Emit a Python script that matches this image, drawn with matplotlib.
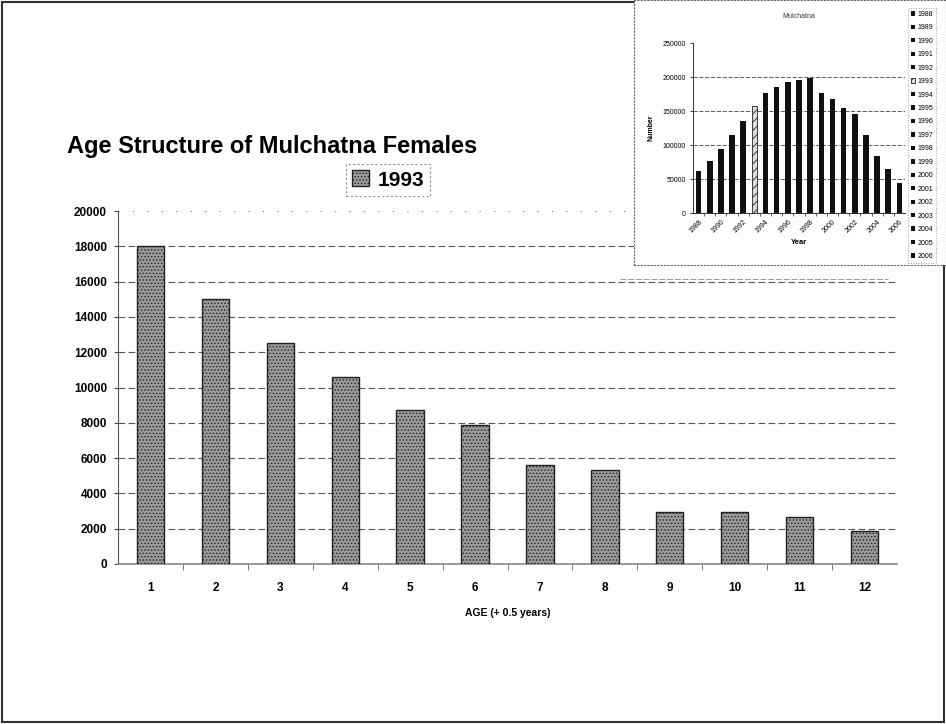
import matplotlib
matplotlib.use("Agg")
import matplotlib.pyplot as plt
from matplotlib.patches import Rectangle, Patch
from matplotlib.lines import Line2D

plt.rcParams['font.family'] = ['Liberation Sans', 'DejaVu Sans']
plt.rcParams['hatch.linewidth'] = 0.6

# main chart: age structure of females, 1993
ages = list(range(1, 13))
females_1993 = [18000, 15000, 12500, 10600, 8700, 7900, 5600, 5300, 2950, 2950, 2650, 1850]
main_yticks = list(range(0, 20001, 2000))

# inset: herd size by year
years = list(range(1988, 2007))
herd_size = [62000, 77000, 94000, 115000, 136000, 157000, 176000, 186000, 192000,
             196000, 198000, 176000, 168000, 154000, 146000, 115000, 84000, 64000, 44000]
inset_yticks = list(range(0, 250001, 50000))
highlight_year = 1993

W, H = 946, 724
fig = plt.figure(figsize=(W / 100, H / 100), dpi=100)


def box(x0, y0, x1, y1):
    # pixel box (top-left origin) -> figure fraction rect
    return [x0 / W, 1 - y1 / H, (x1 - x0) / W, (y1 - y0) / H]


# ---- main chart ----
ax = fig.add_axes(box(118, 211, 897, 564), zorder=1)
bar_style = dict(facecolor='#9a9a9a', edgecolor='#222222', hatch='.....', linewidth=1.0)
ax.bar(ages, females_1993, width=0.42, zorder=3, **bar_style)
ax.set_xlim(0.5, 12.5)
ax.set_ylim(0, 20000)
ax.set_yticks(main_yticks)
ax.set_xticks(ages)
ax.set_xticks([a + 0.5 for a in ages[:-1]], minor=True)
ax.tick_params(axis='x', which='major', length=0, pad=13, labelsize=8.5)
ax.tick_params(axis='x', which='minor', length=4, color='#666666', direction='out')
ax.tick_params(axis='y', length=3, color='#444444', labelsize=8.5, pad=5)
for lab in ax.get_xticklabels() + ax.get_yticklabels():
    lab.set_fontweight('bold')
for side in ['top', 'right']:
    ax.spines[side].set_visible(False)
ax.spines['left'].set_color('#555555')
ax.spines['bottom'].set_color('#888888')
ax.spines['bottom'].set_linewidth(1.2)
for y in main_yticks[1:-1]:
    ax.axhline(y, color='#555555', lw=0.8, ls=(0, (6, 3)), zorder=1)
ax.axhline(main_yticks[-1], color='#777777', lw=0.8, ls=(0, (1, 12)), zorder=1)
ax.set_xlabel('AGE (+ 0.5 years)', fontsize=7.5, fontweight='bold', labelpad=10)

fig.text(67 / W, 1 - 147 / H, 'Age Structure of Mulchatna Females',
         fontsize=17, fontweight='bold', va='center', ha='left')

leg = ax.legend([Patch(**bar_style)], ['1993'], loc='center',
                bbox_to_anchor=(388 / W, 1 - 180 / H), bbox_transform=fig.transFigure,
                prop={'size': 15, 'weight': 'bold'}, handlelength=0.8, handleheight=0.8,
                handletextpad=0.4, borderpad=0.3, fancybox=False)
leg.get_frame().set_edgecolor('#777777')
leg.get_frame().set_linestyle((0, (2, 2)))
leg.get_frame().set_linewidth(0.8)

# ---- inset panel ----
bg = fig.add_axes(box(634, 0, 946, 265), zorder=2)
bg.set_xticks([])
bg.set_yticks([])
for sp in bg.spines.values():
    sp.set_linestyle((0, (1, 2)))
    sp.set_color('#666666')
    sp.set_linewidth(0.8)

ins = fig.add_axes(box(693, 43, 905, 213), zorder=3)
for i, (yr, val) in enumerate(zip(years, herd_size)):
    if yr == highlight_year:
        ins.bar(i, val, width=0.5, facecolor='#dddddd', edgecolor='#222222',
                hatch='////', linewidth=0.6, zorder=3, label=str(yr))
    else:
        ins.bar(i, val, width=0.5, color='#111111', zorder=3, label=str(yr))
ins.set_xlim(-0.5, len(years) - 0.5)
ins.set_ylim(0, 250000)
ins.set_yticks(inset_yticks)
ins.set_yticklabels([str(v) for v in inset_yticks])
ins.set_xticks([i for i, yr in enumerate(years) if yr % 2 == 0])
ins.set_xticklabels([str(yr) for yr in years if yr % 2 == 0], rotation=45,
                    ha='right', rotation_mode='anchor')
ins.set_xticks([i + 0.5 for i in range(len(years) - 1)], minor=True)
ins.tick_params(axis='x', which='major', length=0, labelsize=5, pad=4)
ins.tick_params(axis='x', which='minor', length=2, color='#444444')
ins.tick_params(axis='y', length=2, labelsize=5, pad=3, color='#444444')
for side in ['top', 'right']:
    ins.spines[side].set_visible(False)
for sp in ['left', 'bottom']:
    ins.spines[sp].set_color('#333333')
    ins.spines[sp].set_linewidth(0.7)
for y in inset_yticks[1:-1]:
    ins.axhline(y, color='#444444', lw=0.6, ls=(0, (5, 2)), zorder=1)
ins.set_title('Mulchatna', fontsize=5, pad=18, color='#333333')
ins.set_ylabel('Number', fontsize=5, fontweight='bold', labelpad=6)
ins.set_xlabel('Year', fontsize=5.5, fontweight='bold', labelpad=3)

ileg = ins.legend(loc='upper left', bbox_to_anchor=(908 / W, 1 - 8 / H),
                  bbox_transform=fig.transFigure, fontsize=5, handlelength=0.6,
                  handleheight=0.6, handletextpad=0.4, labelspacing=0.93,
                  borderpad=0.4, borderaxespad=0, fancybox=False)
ileg.get_frame().set_edgecolor('#666666')
ileg.get_frame().set_linestyle((0, (1, 2)))
ileg.get_frame().set_linewidth(0.6)

# leftover chart-area edge under the inset and page frame
fig.add_artist(Line2D([620 / W, 888 / W], [1 - 279 / H] * 2, color='#999999',
                      lw=0.7, ls=(0, (6, 2))))
fig.add_artist(Rectangle((0.002, 0.003), 0.996, 0.994, transform=fig.transFigure,
                         fill=False, lw=1.5, ec='#333333'))

fig.savefig('out.png', dpi=100)
